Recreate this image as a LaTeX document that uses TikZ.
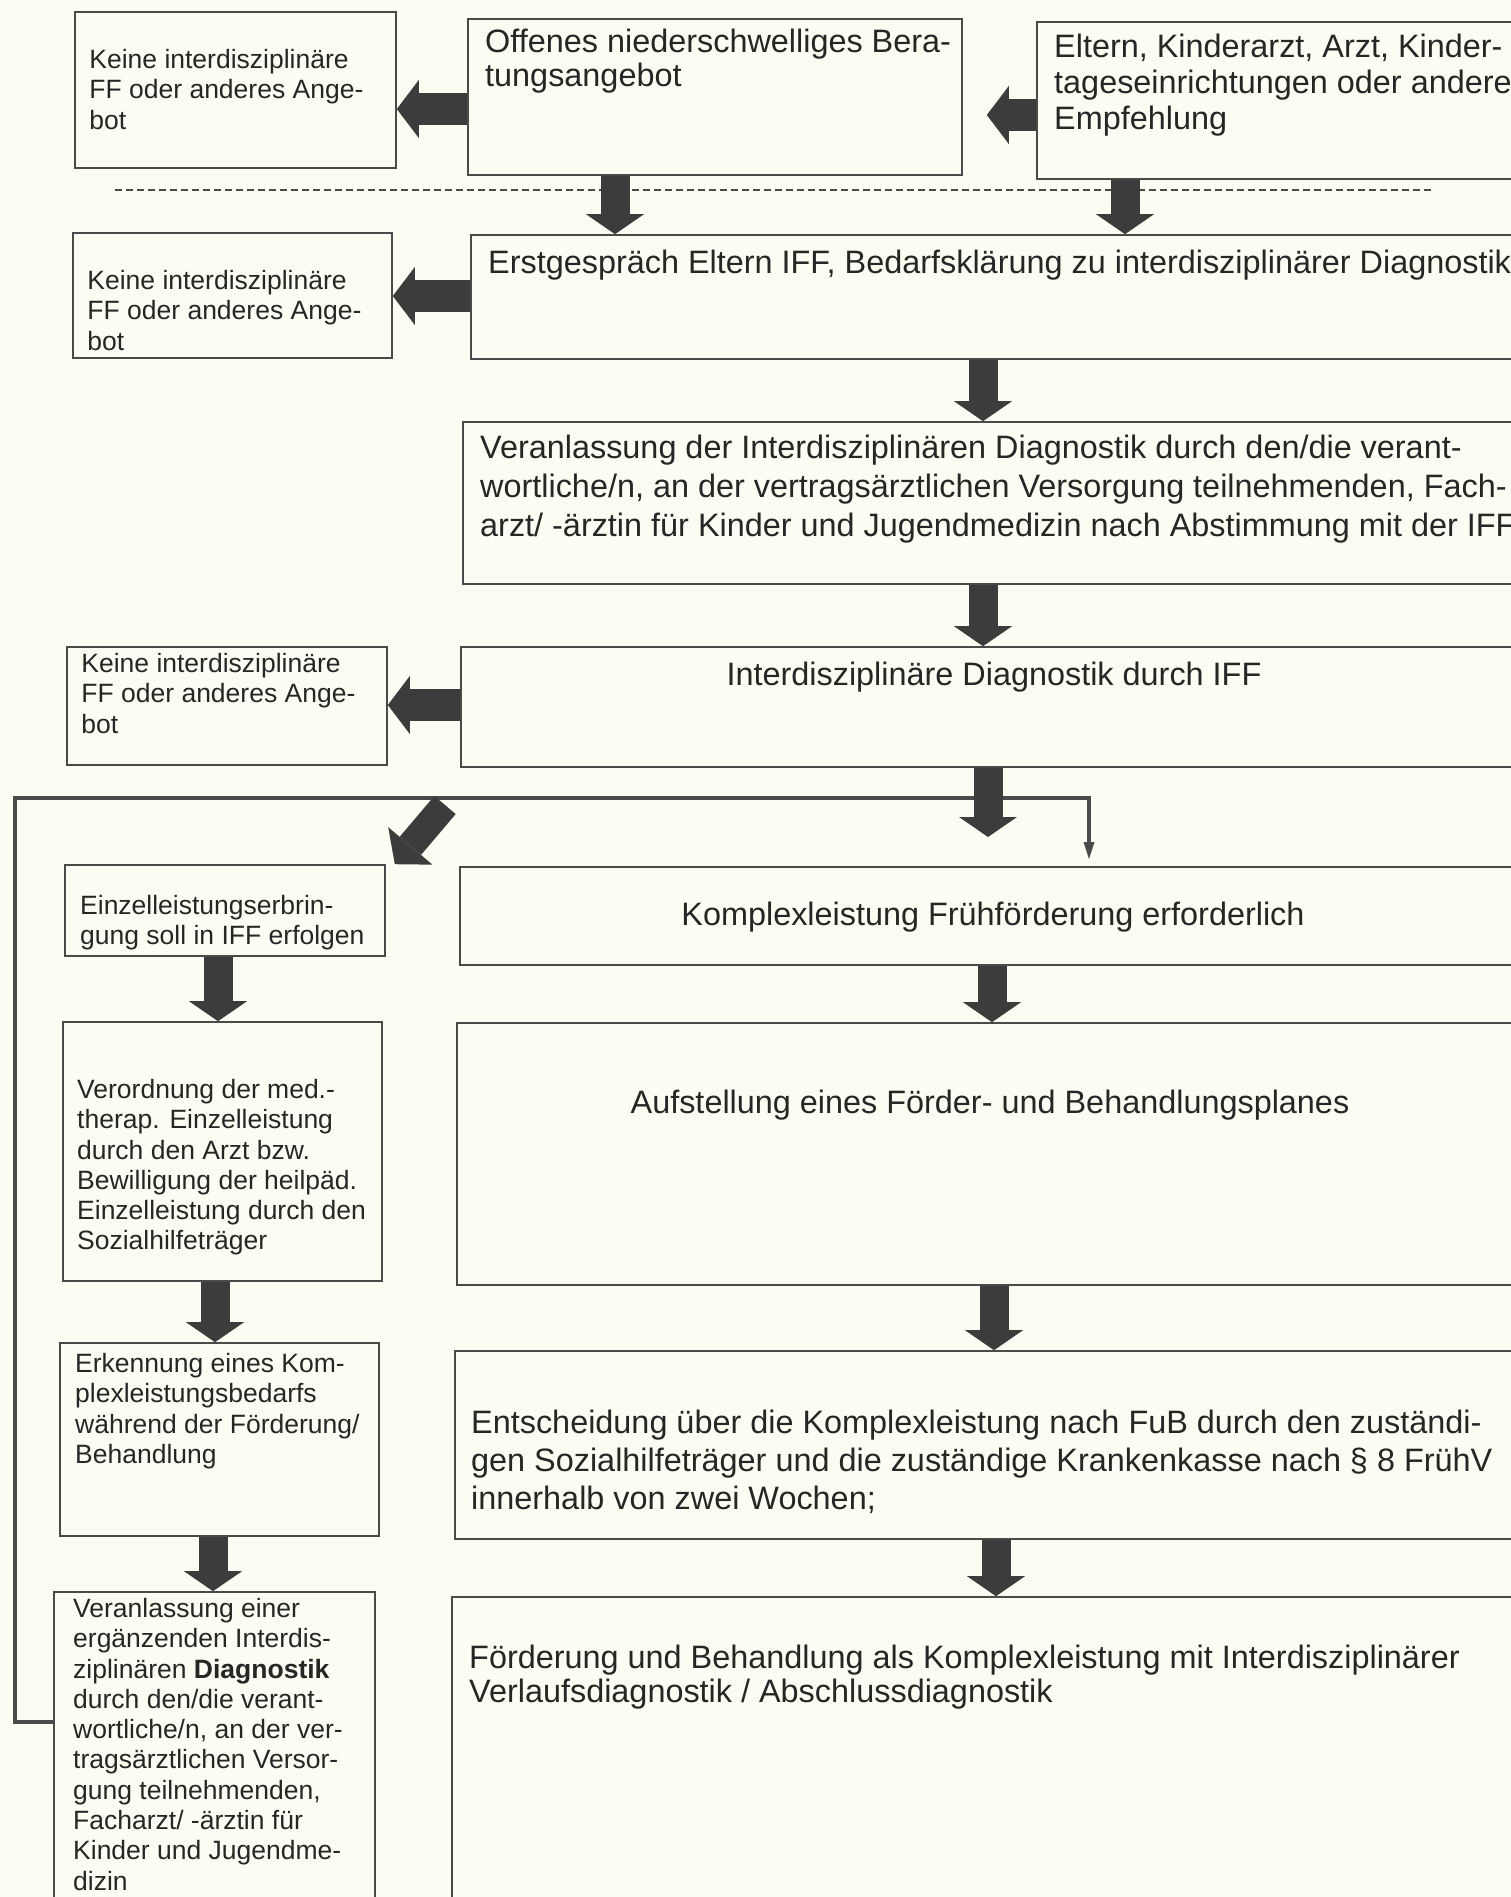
\documentclass[tikz,border=0pt]{standalone}
\usepackage{fontspec}
\setmainfont{Liberation Sans}
\usetikzlibrary{arrows.meta,fit}
\definecolor{ffpaper}{HTML}{FDFCF2}
\definecolor{ffink}{HTML}{262626}
\definecolor{ffline}{HTML}{4A4A4A}
\definecolor{ffarrow}{HTML}{3C3C3C}
\tikzset{
  ffbox/.style={draw=ffline,line width=1.6pt,inner sep=0pt},
  fftxt/.style={font=\fontsize{26.5}{30.3}\selectfont,text=ffink,align=left,inner sep=0pt,anchor=north west},
  fftxtbig/.style={fftxt,font=\fontsize{32.4}{38}\selectfont},
  fatdown/.style={draw=ffarrow,line width=29pt,-{Triangle[width=58pt,length=20pt,line width=0pt]}},
  fatleft/.style={draw=ffarrow,line width=32pt,-{Triangle[width=58pt,length=22pt,line width=0pt]}},
  fatdiag/.style={draw=ffarrow,line width=28pt,-{Triangle[width=58pt,length=24pt,line width=0pt]}},
  backline/.style={draw=ffline,line width=3.5pt,-{Triangle[width=11pt,length=17pt,line width=0pt]}},
  sepline/.style={draw=ffline,line width=1.5pt,dash pattern=on 7pt off 4pt}
}
\newcommand{\ffbox}[5]{\node[ffbox,fit={(#2,#3) (#4,#5)}] (#1) {};}

\begin{document}
\begin{tikzpicture}[x=1pt,y=-1pt]
  \useasboundingbox[fill=ffpaper] (0,0) rectangle (1511,1897);
  \clip (0,0) rectangle (1511,1897);
  \ffbox{kein1}{75}{12}{396}{168}
  \ffbox{offen}{468}{19}{962}{175}
  \ffbox{eltern}{1037}{22}{1540}{179}
  \ffbox{kein2}{73}{233}{392}{358}
  \ffbox{erst}{471}{235}{1540}{359}
  \ffbox{veranl}{463}{422}{1540}{584}
  \ffbox{kein3}{67}{647}{387}{765}
  \ffbox{idiag}{461}{647}{1540}{767}
  \ffbox{einzel}{65}{865}{385}{956}
  \ffbox{komplex}{460}{867}{1540}{965}
  \ffbox{verord}{63}{1022}{382}{1281}
  \ffbox{aufst}{457}{1023}{1540}{1285}
  \ffbox{erkenn}{60}{1343}{379}{1536}
  \ffbox{entsch}{455}{1351}{1540}{1539}
  \ffbox{veranle}{54}{1592}{375}{1910}
  \ffbox{foerd}{452}{1597}{1540}{1910}

  \foreach \b/\dy in {kein1/38,kein2/38,kein3/7}{%
    \node[fftxt] (\b txt) at ([shift={(15pt,-\dy pt)}]\b.north west) {Keine interdisziplinäre\\FF oder anderes Ange-\\bot};}
  \node[fftxtbig,font=\fontsize{32.4}{34}\selectfont] (offentxt) at (485,29) {Offenes niederschwelliges Bera-\\tungsangebot};
  \node[fftxtbig,font=\fontsize{32.4}{36}\selectfont] (elterntxt) at (1054,34) {Eltern, Kinderarzt, Arzt, Kinder-\\tageseinrichtungen oder andere\\Empfehlung};
  \node[fftxtbig] (ersttxt) at (488,250) {Erstgespräch Eltern IFF, Bedarfsklärung zu interdisziplinärer Diagnostik};
  \node[fftxtbig,font=\fontsize{32.4}{39}\selectfont] (veranltxt) at (480,435) {Veranlassung der Interdisziplinären Diagnostik durch den/die verant-\\wortliche/n, an der vertragsärztlichen Versorgung teilnehmenden, Fach-\\arzt/ -ärztin für Kinder und Jugendmedizin nach Abstimmung mit der IFF};
  \node[fftxtbig,anchor=north] (idiagtxt) at (994,662) {Interdisziplinäre Diagnostik durch IFF};
  \node[fftxt] (einzeltxt) at (80,895) {Einzelleistungserbrin-\\gung soll in IFF erfolgen};
  \node[fftxtbig,anchor=north] (komplextxt) at (993,902) {Komplexleistung Frühförderung erforderlich};
  \node[fftxt] (verordtxt) at (77,1079) {Verordnung der med.-\\therap. Einzelleistung\\durch den Arzt bzw.\\Bewilligung der heilpäd.\\Einzelleistung durch den\\Sozialhilfeträger};
  \node[fftxtbig,anchor=north] (aufsttxt) at (990,1090) {Aufstellung eines Förder- und Behandlungsplanes};
  \node[fftxt] (erkenntxt) at (75,1353) {Erkennung eines Kom-\\plexleistungsbedarfs\\während der Förderung/\\Behandlung};
  \node[fftxtbig] (entschtxt) at (471,1410) {Entscheidung über die Komplexleistung nach FuB durch den zuständi-\\gen Sozialhilfeträger und die zuständige Krankenkasse nach § 8 FrühV\\innerhalb von zwei Wochen;};
  \node[fftxt] (veranletxt) at (73,1598) {Veranlassung einer\\ergänzenden Interdis-\\ziplinären \textbf{Diagnostik}\\durch den/die verant-\\wortliche/n, an der ver-\\tragsärztlichen Versor-\\gung teilnehmenden,\\Facharzt/ -ärztin für\\Kinder und Jugendme-\\dizin};
  \node[fftxtbig,font=\fontsize{32.4}{34}\selectfont] (foerdtxt) at (469,1645) {Förderung und Behandlung als Komplexleistung mit Interdisziplinärer\\Verlaufsdiagnostik / Abschlussdiagnostik};

  \draw[sepline] (115,190) -- (1433,190);
  \coordinate (loopend) at (1089,859);
  \coordinate (splitL) at (445,805);
  \coordinate (splitR) at (988,837);
  \draw[backline] (veranle.west |- 0,1722) -| (15,798) -| (loopend);

  \draw[fatleft] (offen.west |- 0,109) -- (kein1.east |- 0,109);
  \draw[fatleft,shorten >=24pt] (eltern.west |- 0,115) -- (offen.east |- 0,115);
  \draw[fatleft] (erst.west |- 0,296) -- (kein2.east |- 0,296);
  \draw[fatleft] (idiag.west |- 0,705) -- (kein3.east |- 0,705);
  \foreach \a/\b/\x in {offen/erst/615,eltern/erst/1125,erst/veranl/983,veranl/idiag/983,
      komplex/aufst/992,aufst/entsch/994,entsch/foerd/996,
      einzel/verord/218,verord/erkenn/215,erkenn/veranle/213}{%
    \draw[fatdown] (\x,0 |- \a.south) -- (\x,0 |- \b.north);}
  \draw[fatdown] (988,0 |- idiag.south) -- (splitR);
  \draw[fatdiag] (splitL) -- ([xshift=9pt]einzel.north east);
\end{tikzpicture}
\end{document}
